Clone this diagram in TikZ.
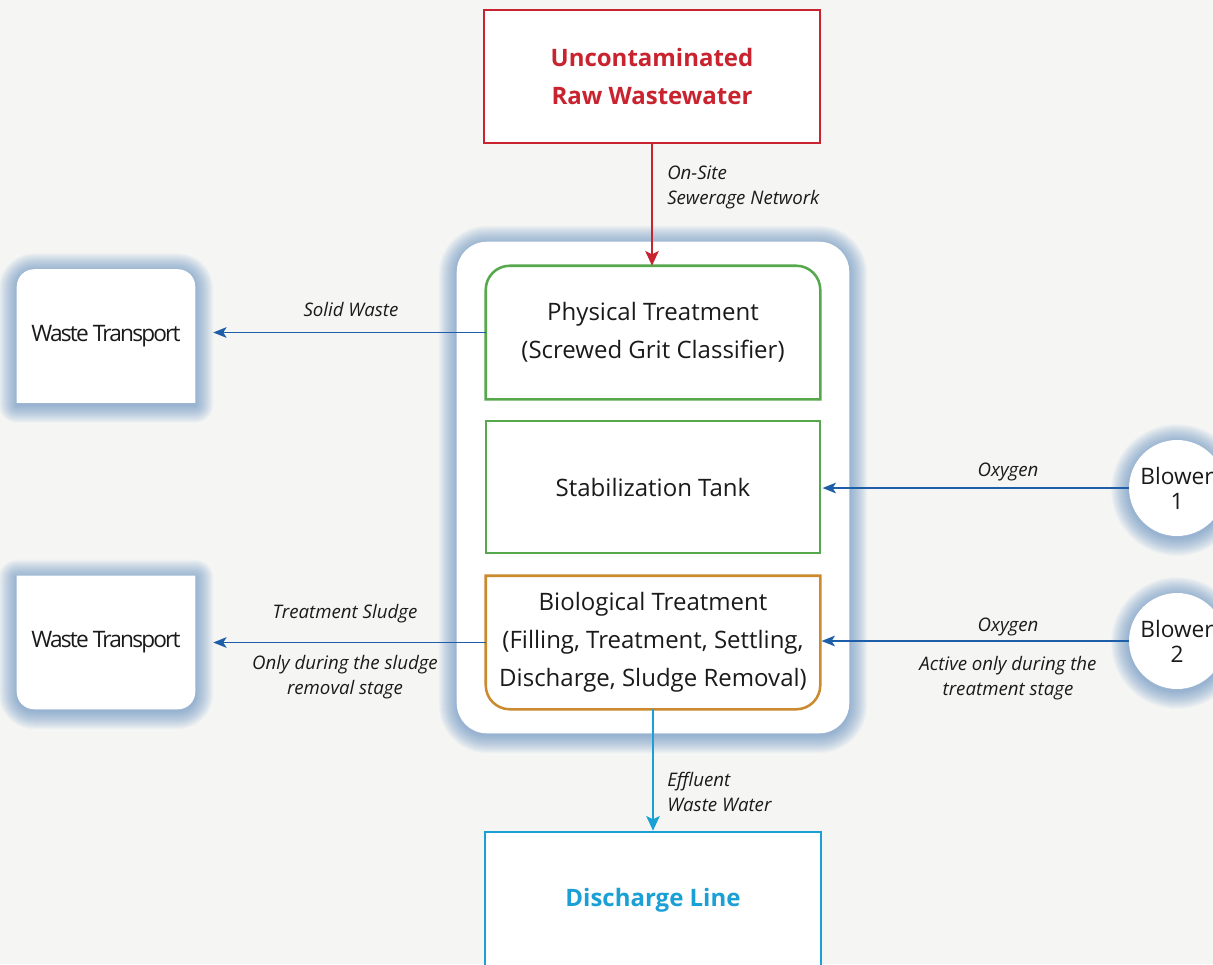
\documentclass[tikz,border=0pt]{standalone}
\usepackage{fontspec}
\setmainfont{Open Sans}
\usetikzlibrary{arrows.meta,calc}
\definecolor{bgc}{HTML}{F5F6F4}
\definecolor{redc}{HTML}{C8232F}
\definecolor{greenc}{HTML}{55A84B}
\definecolor{orangec}{HTML}{CC8A2E}
\definecolor{cyanc}{HTML}{1AA0D5}
\definecolor{arrblue}{HTML}{1E5EA8}
\definecolor{glowc}{HTML}{4F82BC}
\definecolor{txt}{HTML}{1A1A1A}
\pgfdeclarelayer{back}
\pgfsetlayers{back,main}
% partially rounded outlines
\newcommand\shapeTop[3]{\path[#3] (#1.south west) -- ([yshift=-#2]#1.north west) arc[start angle=180,end angle=90,radius=#2] -- ([xshift=-#2]#1.north east) arc[start angle=90,end angle=0,radius=#2] -- (#1.south east) -- cycle;}
\newcommand\shapeBot[3]{\path[#3] (#1.north west) -- ([yshift=#2]#1.south west) arc[start angle=180,end angle=270,radius=#2] -- ([xshift=-#2]#1.south east) arc[start angle=270,end angle=360,radius=#2] -- (#1.north east) -- cycle;}
\newcommand\shapeRound[3]{\path[#3,rounded corners=#2] (#1.south west) rectangle (#1.north east);}
\newcommand\shapeCirc[3]{\path[#3] (#1.center) circle[radius=#2];}
\newcommand\glowof[3]{\foreach \w in {2,4,...,36}{#1{#2}{#3}{draw=glowc,line width=\w*0.75pt,draw opacity=0.04,line join=round,transform canvas={yshift=-1.5pt}}}}
\begin{document}
\begin{tikzpicture}[x=0.75pt,y=-0.75pt,
  box/.style={inner sep=0pt, align=center, font=\fontsize{18}{28.5}\selectfont, text=txt, minimum width=334*0.75pt, minimum height=133*0.75pt},
  endbox/.style={inner sep=0pt, align=center, fill=white, line width=1.9pt, minimum width=336*0.75pt, font=\fontsize{18}{28.5}\selectfont\bfseries},
  wtbox/.style={inner sep=0pt, align=center, text=txt, minimum width=178*0.75pt, minimum height=133*0.75pt, font=\fontsize{17}{28}\selectfont\addfontfeature{LetterSpace=-8}},
  blower/.style={circle, inner sep=0pt, minimum size=96*0.75pt, fill=white, align=center, text=txt, font=\fontsize{17}{18.75}\selectfont},
  lab/.style={inner sep=0pt, align=center, text=txt, font=\fontsize{14}{18.75}\selectfont\itshape},
  labl/.style={lab, align=left},
  bluearr/.style={draw=arrblue, line width=1.2pt, -{Stealth[length=10pt,width=8pt,inset=2.5pt]}},
  redarr/.style={draw=redc, line width=1.9pt, -{Stealth[length=11pt,width=10pt,inset=2.5pt]}},
  cyanarr/.style={draw=cyanc, line width=1.9pt, -{Stealth[length=11pt,width=10pt,inset=2.5pt]}}
]
\useasboundingbox (0,0) rectangle (1213,964);

% nodes
\node[endbox, draw=redc, text=redc, minimum height=133*0.75pt] (top) at (652,76.5) {Uncontaminated\\Raw Wastewater};
\node[inner sep=0pt, minimum width=392*0.75pt, minimum height=491*0.75pt] (cont) at (653,487.5) {};
\node[box] (phys) at (653,332.5) {Physical Treatment\\(Screwed Grit Classifier)};
\node[box, draw=greenc, line width=1.9pt, minimum height=132*0.75pt] (stab) at (653,487) {Stabilization Tank};
\node[box] (bio) at (653,642.5) {Biological Treatment\\(Filling, Treatment, Settling,\\Discharge, Sludge Removal)};
\node[endbox, draw=cyanc, text=cyanc, minimum height=136*0.75pt] (disc) at (653,900) {Discharge Line};
\node[wtbox] (wt1) at (106,336) {Waste Transport};
\node[wtbox] (wt2) at (106,642.5) {Waste Transport};
\node[blower] (b1) at (1177,488) {Blower\\1};
\node[blower] (b2) at (1177,641) {Blower\\2};

% outlines of partially rounded boxes
\shapeTop{phys}{18pt}{draw=greenc, line width=1.9pt}
\shapeBot{bio}{18pt}{draw=orangec, line width=1.9pt}

% background, glows, white fills
\begin{pgfonlayer}{back}
  \fill[bgc] (0,0) rectangle (1213,964);
  \glowof{\shapeRound}{cont}{22.5pt}
  \shapeRound{cont}{22.5pt}{fill=white}
  \glowof{\shapeTop}{wt1}{13pt}
  \shapeTop{wt1}{13pt}{fill=white}
  \glowof{\shapeBot}{wt2}{13pt}
  \shapeBot{wt2}{13pt}{fill=white}
  \glowof{\shapeCirc}{b1}{36pt}
  \glowof{\shapeCirc}{b2}{36pt}
\end{pgfonlayer}

% connectors
\draw[redarr] (top.south) -- (top.south |- phys.north);
\draw[cyanarr] (bio.south) -- (bio.south |- disc.north);
\draw[bluearr, shorten >=13.5pt] (phys.west) -- (phys.west -| wt1.east);
\draw[bluearr, shorten >=13.5pt] (bio.west) -- (bio.west -| wt2.east);
\draw[bluearr, shorten >=1pt] (b1.west) -- (b1.west -| stab.east);
\draw[bluearr, shorten >=1pt] (b2.west) -- (b2.west -| bio.east);

% labels
\node[labl, anchor=west] (l1) at (667,187.5) {On-Site\\Sewerage Network};
\node[labl, anchor=west] (l2) at (667,791.5) {Effluent\\Waste Water};
\node[lab] (l3) at (351,309) {Solid Waste};
\node[lab] (l4) at (345,614) {Treatment Sludge};
\node[lab] (l5) at (345,677) {Only during the sludge\\removal stage};
\node[lab] (l6) at (1008,472) {Oxygen};
\node[lab] (l7) at (1008,627) {Oxygen};
\node[lab] (l8) at (1008,678) {Active only during the\\treatment stage};
\end{tikzpicture}
\end{document}
